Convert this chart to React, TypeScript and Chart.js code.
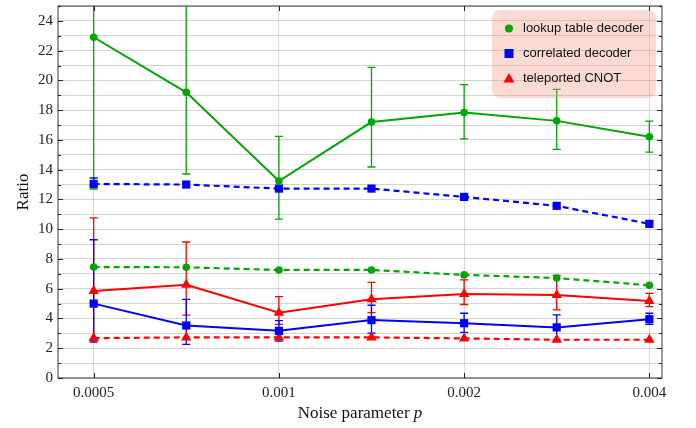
import { useEffect, useRef } from 'react';
import { Chart, registerables } from 'chart.js';

Chart.register(...registerables);

// ---- data ----
const pValues = [0.0005, 0.000707, 0.001, 0.001414, 0.002, 0.002828, 0.004];
const xTickValues = [0.0005, 0.001, 0.002, 0.004];
const xTickLabels = ['0.0005', '0.001', '0.002', '0.004'];
const yMajorTicks = [0, 2, 4, 6, 8, 10, 12, 14, 16, 18, 20, 22, 24];

const lookupSolid = [22.9, 19.2, 13.24, 17.2, 17.84, 17.28, 16.21];
const lookupSolidLow = [12.7, 13.71, 10.68, 14.18, 16.07, 15.37, 15.18];
const lookupSolidHigh = [33.1, 25.6, 16.24, 20.88, 19.72, 19.4, 17.26];

const lookupDashed = [7.46, 7.44, 7.26, 7.26, 6.93, 6.72, 6.23];

const correlatedDashed = [13.04, 13.0, 12.73, 12.73, 12.17, 11.57, 10.36];
const correlatedDashedLow = [12.95, null, null, null, null, null, null];
const correlatedDashedHigh = [13.44, null, null, null, null, null, null];

const correlatedSolid = [5.0, 3.53, 3.17, 3.89, 3.68, 3.4, 3.95];
const correlatedSolidLow = [2.41, 2.26, 2.48, 3.01, 3.06, 2.56, 3.6];
const correlatedSolidHigh = [9.29, 5.29, 3.86, 4.89, 4.35, 4.24, 4.35];

const teleportSolid = [5.85, 6.26, 4.38, 5.29, 5.65, 5.58, 5.18];
const teleportSolidLow = [2.5, 4.22, 3.6, 4.4, 4.94, 4.58, 4.8];
const teleportSolidHigh = [10.76, 9.14, 5.47, 6.43, 6.59, 6.9, 5.69];

const teleportDashed = [2.68, 2.73, 2.73, 2.73, 2.66, 2.57, 2.57];

const legendLabels = ['lookup table decoder', 'correlated decoder', 'teleported CNOT'];

const GREEN = '#00a600';
const BLUE = '#0000ff';
const RED = '#ff0000';

const toPts = (arr: number[]) => pValues.map((p, i) => ({ x: p, y: arr[i] }));

const errorBarPlugin = {
  id: 'errorBars',
  beforeDatasetsDraw(chart: any) {
    const { ctx, chartArea, scales } = chart;
    const x = scales.x;
    const y = scales.y;
    ctx.save();
    ctx.beginPath();
    ctx.rect(chartArea.left, chartArea.top, chartArea.right - chartArea.left, chartArea.bottom - chartArea.top);
    ctx.clip();
    chart.data.datasets.forEach((ds: any) => {
      if (!ds.errLow) return;
      ctx.strokeStyle = ds.errColor;
      ctx.lineWidth = 1.3;
      ds.errLow.forEach((lo: number | null, i: number) => {
        const hi = ds.errHigh[i];
        if (lo == null || hi == null) return;
        const px = x.getPixelForValue(pValues[i]);
        const y1 = y.getPixelForValue(lo);
        const y2 = y.getPixelForValue(hi);
        ctx.beginPath();
        ctx.moveTo(px, y1);
        ctx.lineTo(px, y2);
        ctx.moveTo(px - 4, y1);
        ctx.lineTo(px + 4, y1);
        ctx.moveTo(px - 4, y2);
        ctx.lineTo(px + 4, y2);
        ctx.stroke();
      });
    });
    ctx.restore();
  },
};

const framePlugin = {
  id: 'frame',
  afterDraw(chart: any) {
    const { ctx, chartArea, scales } = chart;
    const { left, right, top, bottom } = chartArea;
    const x = scales.x;
    const y = scales.y;
    ctx.save();
    // frame
    ctx.strokeStyle = '#555';
    ctx.lineWidth = 1.2;
    ctx.strokeRect(left, top, right - left, bottom - top);
    // inward ticks
    ctx.strokeStyle = '#222';
    ctx.lineWidth = 1;
    ctx.beginPath();
    for (let v = 0; v <= 25; v++) {
      const py = Math.round(y.getPixelForValue(v)) + 0.5;
      const len = v % 2 === 0 ? 5 : 3;
      ctx.moveTo(left, py);
      ctx.lineTo(left + len, py);
      ctx.moveTo(right, py);
      ctx.lineTo(right - len, py);
    }
    xTickValues.forEach((v) => {
      const px = Math.round(x.getPixelForValue(v)) + 0.5;
      ctx.moveTo(px, bottom);
      ctx.lineTo(px, bottom - 5);
      ctx.moveTo(px, top);
      ctx.lineTo(px, top + 5);
    });
    ctx.stroke();

    // axis titles
    ctx.fillStyle = '#111';
    ctx.textBaseline = 'alphabetic';
    const t1 = 'Noise parameter ';
    ctx.font = '17px "Liberation Serif", serif';
    const w1 = ctx.measureText(t1).width;
    ctx.font = 'italic 17px "Liberation Serif", serif';
    const w2 = ctx.measureText('p').width;
    const cx = (left + right) / 2;
    const startX = cx - (w1 + w2) / 2;
    ctx.textAlign = 'left';
    ctx.font = '17px "Liberation Serif", serif';
    ctx.fillText(t1, startX, 418);
    ctx.font = 'italic 17px "Liberation Serif", serif';
    ctx.fillText('p', startX + w1, 418);

    ctx.save();
    ctx.translate(28, (top + bottom) / 2);
    ctx.rotate(-Math.PI / 2);
    ctx.textAlign = 'center';
    ctx.font = '17px "Liberation Serif", serif';
    ctx.fillText('Ratio', 0, 0);
    ctx.restore();

    // legend
    const bx = 492, by = 10, bw = 164, bh = 88, r = 9;
    ctx.beginPath();
    ctx.moveTo(bx + r, by);
    ctx.lineTo(bx + bw - r, by);
    ctx.quadraticCurveTo(bx + bw, by, bx + bw, by + r);
    ctx.lineTo(bx + bw, by + bh - r);
    ctx.quadraticCurveTo(bx + bw, by + bh, bx + bw - r, by + bh);
    ctx.lineTo(bx + r, by + bh);
    ctx.quadraticCurveTo(bx, by + bh, bx, by + bh - r);
    ctx.lineTo(bx, by + r);
    ctx.quadraticCurveTo(bx, by, bx + r, by);
    ctx.closePath();
    ctx.fillStyle = 'rgba(240,150,125,0.35)';
    ctx.fill();

    const rows = [28.5, 53.5, 78.5];
    const mx = 509;
    ctx.fillStyle = GREEN;
    ctx.beginPath();
    ctx.arc(mx, rows[0], 4, 0, Math.PI * 2);
    ctx.fill();
    ctx.fillStyle = BLUE;
    ctx.fillRect(mx - 4.5, rows[1] - 4.5, 9, 9);
    ctx.fillStyle = RED;
    ctx.beginPath();
    ctx.moveTo(mx, rows[2] - 5.5);
    ctx.lineTo(mx + 5.5, rows[2] + 4);
    ctx.lineTo(mx - 5.5, rows[2] + 4);
    ctx.closePath();
    ctx.fill();

    ctx.fillStyle = '#111';
    ctx.font = '13px "Liberation Sans", Arial, sans-serif';
    ctx.textAlign = 'left';
    ctx.textBaseline = 'middle';
    legendLabels.forEach((lab, i) => ctx.fillText(lab, 523, rows[i]));
    ctx.restore();
  },
};

export default function App() {
  const canvasRef = useRef<HTMLCanvasElement | null>(null);

  useEffect(() => {
    document.body.style.margin = '0';
    const canvas = canvasRef.current;
    if (!canvas) return;
    const chart = new Chart(canvas, {
      type: 'line',
      data: {
        datasets: [
          {
            label: 'lookup solid',
            data: toPts(lookupSolid),
            borderColor: GREEN,
            backgroundColor: GREEN,
            borderWidth: 2,
            pointStyle: 'circle',
            pointRadius: 3.8,
            pointBorderWidth: 0,
            errLow: lookupSolidLow,
            errHigh: lookupSolidHigh,
            errColor: GREEN,
          } as any,
          {
            label: 'correlated dashed',
            data: toPts(correlatedDashed),
            borderColor: BLUE,
            backgroundColor: BLUE,
            borderWidth: 2.2,
            borderDash: [6, 4],
            pointStyle: 'rect',
            pointRadius: 5.8,
            pointBorderWidth: 0,
            errLow: correlatedDashedLow,
            errHigh: correlatedDashedHigh,
            errColor: BLUE,
          } as any,
          {
            label: 'lookup dashed',
            data: toPts(lookupDashed),
            borderColor: GREEN,
            backgroundColor: GREEN,
            borderWidth: 2.2,
            borderDash: [6, 4],
            pointStyle: 'circle',
            pointRadius: 3.8,
            pointBorderWidth: 0,
          } as any,
          {
            label: 'teleport solid',
            data: toPts(teleportSolid),
            borderColor: RED,
            backgroundColor: RED,
            borderWidth: 2,
            pointStyle: 'triangle',
            pointRadius: 6,
            pointBorderWidth: 0,
            errLow: teleportSolidLow,
            errHigh: teleportSolidHigh,
            errColor: RED,
          } as any,
          {
            label: 'correlated solid',
            data: toPts(correlatedSolid),
            borderColor: BLUE,
            backgroundColor: BLUE,
            borderWidth: 2,
            pointStyle: 'rect',
            pointRadius: 5.8,
            pointBorderWidth: 0,
            errLow: correlatedSolidLow,
            errHigh: correlatedSolidHigh,
            errColor: BLUE,
          } as any,
          {
            label: 'teleport dashed',
            data: toPts(teleportDashed),
            borderColor: RED,
            backgroundColor: RED,
            borderWidth: 2.2,
            borderDash: [6, 4],
            pointStyle: 'triangle',
            pointRadius: 6,
            pointBorderWidth: 0,
          } as any,
        ],
      },
      options: {
        responsive: false,
        animation: false,
        layout: { padding: { top: 4, right: 34, left: 0, bottom: 0 } },
        plugins: {
          legend: { display: false },
          tooltip: { enabled: false },
        },
        scales: {
          x: {
            type: 'logarithmic',
            min: 0.0004375,
            max: 0.004194,
            afterBuildTicks: (scale: any) => {
              scale.ticks = xTickValues.map((v) => ({ value: v }));
            },
            afterFit: (scale: any) => {
              scale.height = 50;
              scale.paddingLeft = 0;
              scale.paddingRight = 0;
            },
            ticks: {
              autoSkip: false,
              maxRotation: 0,
              padding: 6,
              color: '#222',
              font: { family: '"Liberation Serif", serif', size: 15 },
              callback: (v: any) => {
                const idx = xTickValues.indexOf(Number(v));
                return idx >= 0 ? xTickLabels[idx] : '';
              },
            },
            grid: { color: 'rgba(0,0,0,0.15)', lineWidth: 1, drawTicks: false },
            border: { display: false },
          },
          y: {
            type: 'linear',
            min: 0,
            max: 25,
            afterFit: (scale: any) => {
              scale.width = 58;
              scale.paddingTop = 0;
              scale.paddingBottom = 0;
            },
            ticks: {
              stepSize: 1,
              autoSkip: false,
              padding: 5,
              color: '#222',
              font: { family: '"Liberation Serif", serif', size: 15 },
              callback: (v: any) => (yMajorTicks.includes(Number(v)) ? String(v) : ''),
            },
            grid: { color: 'rgba(0,0,0,0.17)', lineWidth: 1, drawTicks: false },
            border: { display: false },
          },
        },
      },
      plugins: [errorBarPlugin, framePlugin],
    });
    return () => chart.destroy();
  }, []);

  return (
    <div style={{ width: 696, height: 428 }}>
      <canvas ref={canvasRef} width={696} height={428} />
    </div>
  );
}
